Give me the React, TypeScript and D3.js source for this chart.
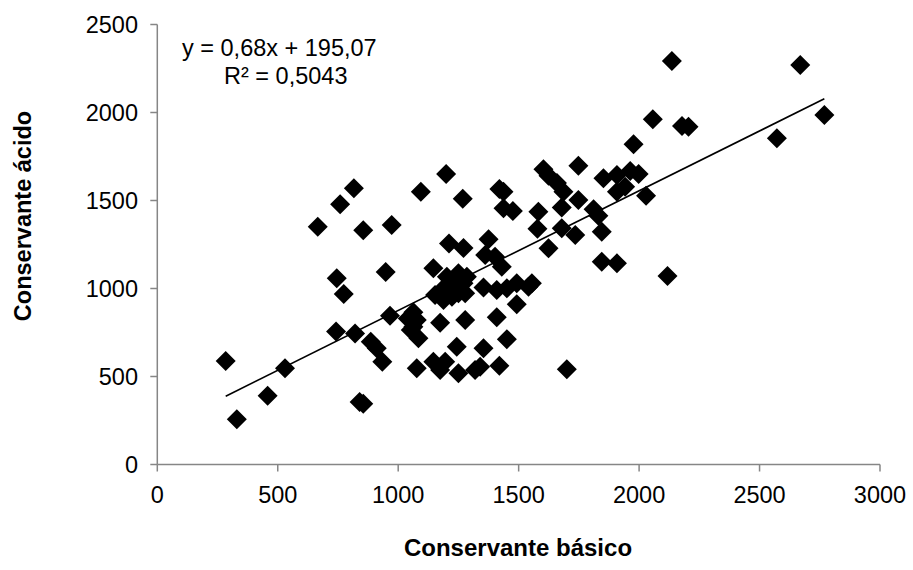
import React from "react";
import * as d3 from "d3";

const basico: number[] = [
  284, 330, 458, 530, 666, 742, 745, 759, 774, 816, 821, 840, 855, 855, 886, 911, 934, 948, 966, 973,
  1040, 1063, 1077, 1052, 1084, 1063, 1077, 1094, 1146, 1146, 1153, 1174, 1174, 1181, 1188, 1195, 1199, 1202, 1211, 1215,
  1223, 1236, 1243, 1250, 1250, 1250, 1268, 1271, 1271, 1278, 1278, 1285, 1319, 1340, 1354, 1354, 1361, 1375, 1402, 1409,
  1409, 1420, 1437, 1437, 1430, 1420, 1451, 1451, 1476, 1492, 1492, 1541, 1555, 1582, 1578, 1603, 1624, 1659, 1686, 1624,
  1679, 1679, 1700, 1735, 1748, 1748, 1811, 1831, 1845, 1845, 1852, 1908, 1908, 1908, 1942, 1963, 1998, 1977, 2029, 2057,
  2118, 2136, 2178, 2205, 2572, 2669, 2769,
];
const acido: number[] = [
  588, 257, 391, 547, 1351, 755, 1058, 1478, 969, 1569, 745, 355, 345, 1331, 698, 660, 584, 1094, 845, 1361,
  830, 865, 821, 764, 717, 783, 547, 1550, 1115, 584, 963, 537, 806, 991, 935, 584, 1650, 1067, 1256, 1010,
  953, 1030, 669, 518, 1086, 973, 1510, 1230, 1030, 973, 821, 1067, 537, 556, 1005, 660, 1190, 1280, 1181, 991,
  836, 1565, 1550, 1456, 1124, 561, 1001, 712, 1440, 1030, 910, 1010, 1030, 1436, 1340, 1678, 1640, 1600, 1550, 1228,
  1460, 1342, 541, 1304, 1697, 1503, 1450, 1413, 1323, 1152, 1626, 1143, 1645, 1550, 1578, 1668, 1651, 1819, 1527, 1961,
  1071, 2293, 1923, 1919, 1853, 2270, 1986,
];
const xTicks: number[] = [0, 500, 1000, 1500, 2000, 2500, 3000];
const yTicks: number[] = [0, 500, 1000, 1500, 2000, 2500];
const slope = 0.68;
const intercept = 195.07;
const eqLine1 = "y = 0,68x + 195,07";
const eqLine2 = "R² = 0,5043";
const xTitle = "Conservante básico";
const yTitle = "Conservante ácido";

const W = 913;
const H = 570;
const FONT = "'Liberation Sans', Arial, sans-serif";

export default function App() {
  const x = d3.scaleLinear().domain([0, 3000]).range([157.3, 880]);
  const y = d3.scaleLinear().domain([0, 2500]).range([464.5, 24.5]);
  const axisColor = "#868686";
  const pts = basico.map((b, i) => [b, acido[i]] as [number, number]);
  const xMin = d3.min(basico) as number;
  const xMax = d3.max(basico) as number;
  const trend = d3.line<number>()
    .x((v) => x(v))
    .y((v) => y(slope * v + intercept))([xMin, xMax]);
  const diamond = d3.symbol().type(d3.symbolSquare).size(200)() as string;
  const fmt = (v: number) => String(v);

  return (
    <svg width={W} height={H} style={{ position: "absolute", left: 0, top: 0, background: "#fff" }}
      fontFamily={FONT}>
      <rect width={W} height={H} fill="#fff" />
      {/* axes */}
      <line x1={x(0)} x2={x(3000)} y1={y(0)} y2={y(0)} stroke={axisColor} strokeWidth={1.5} />
      <line x1={x(0)} x2={x(0)} y1={y(0)} y2={y(2500)} stroke={axisColor} strokeWidth={1.5} />
      {xTicks.map((t) => (
        <g key={"xt" + t}>
          <line x1={x(t)} x2={x(t)} y1={y(0)} y2={y(0) + 7} stroke={axisColor} strokeWidth={1.5} />
          <text x={x(t)} y={503} textAnchor="middle" fontSize={23.5} fill="#000">{fmt(t)}</text>
        </g>
      ))}
      {yTicks.map((t) => (
        <g key={"yt" + t}>
          <line x1={x(0) - 7} x2={x(0)} y1={y(t)} y2={y(t)} stroke={axisColor} strokeWidth={1.5} />
          <text x={138} y={y(t) + 8.5} textAnchor="end" fontSize={23.5} fill="#000">{fmt(t)}</text>
        </g>
      ))}
      {/* points */}
      {pts.map((p, i) => (
        <path key={i} d={diamond} transform={`translate(${x(p[0])},${y(p[1])}) rotate(45)`} fill="#000" />
      ))}
      {/* trendline */}
      <path d={trend as string} stroke="#000" strokeWidth={1.6} fill="none" />
      {/* equation */}
      <text x={182} y={56} fontSize={23.5} fill="#000">{eqLine1}</text>
      <text x={224} y={84} fontSize={23.5} fill="#000">{eqLine2}</text>
      {/* titles */}
      <text x={518} y={556} textAnchor="middle" fontSize={24} fontWeight="bold" fill="#000">{xTitle}</text>
      <text transform={`translate(31,216) rotate(-90)`} textAnchor="middle" fontSize={23.5} fontWeight="bold" fill="#000">{yTitle}</text>
    </svg>
  );
}
